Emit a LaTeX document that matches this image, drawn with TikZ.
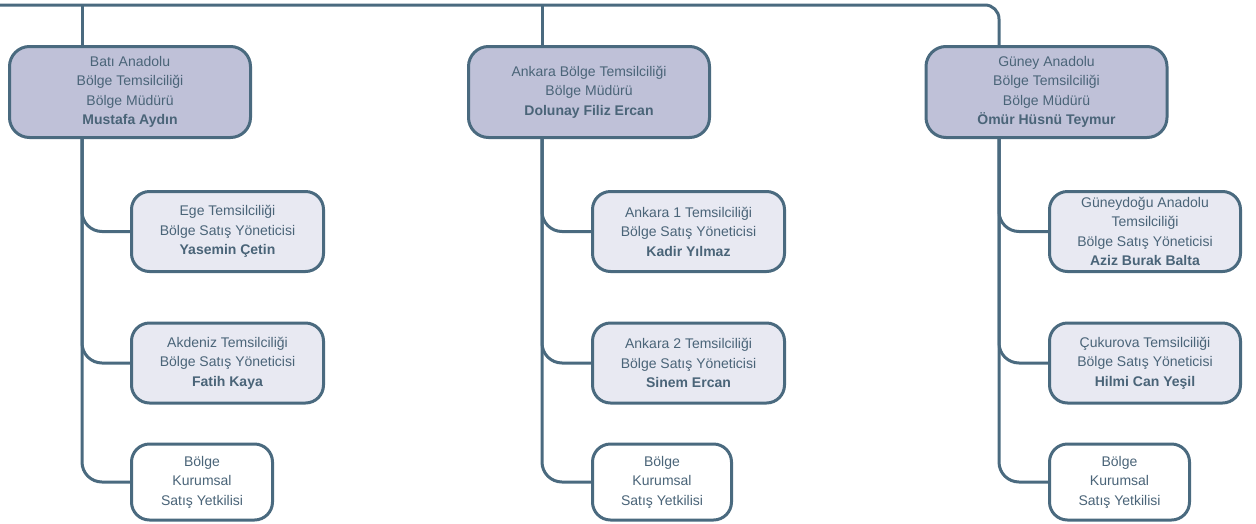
\documentclass[tikz,border=0pt]{standalone}
\usepackage{fontspec}
\setmainfont{Liberation Sans}
\definecolor{ln}{HTML}{4A6A7F}
\definecolor{tx}{HTML}{4A6478}
\definecolor{topfill}{HTML}{BFC1D8}
\definecolor{midfill}{HTML}{E8E9F2}
\tikzset{
  base/.style={draw=ln, line width=3pt, text=tx, align=center, inner sep=0pt,
    font=\fontsize{14}{19.5}\selectfont},
  topbox/.style={base, fill=topfill, rounded corners=20pt, minimum width=241pt, minimum height=91pt},
  midbox/.style={base, fill=midfill, rounded corners=18pt, minimum width=192pt, minimum height=80pt},
  lowbox/.style={base, fill=white, rounded corners=18pt, minimum height=76pt},
  conn/.style={draw=ln, line width=3pt, rounded corners=20pt},
}
\begin{document}
\begin{tikzpicture}[x=1pt,y=-1pt]
\useasboundingbox (0,0) rectangle (1256,523);
\coordinate (tl) at (0,5);
\coordinate (s1) at (82,5);
\coordinate (s2) at (542,5);
\coordinate (s3) at (999,5);

\node[topbox] (b1) at (130,92) {Batı Anadolu\\Bölge Temsilciliği\\Bölge Müdürü\\\textbf{Mustafa Aydın}};
\node[topbox] (b2) at (589,92) {Ankara Bölge Temsilciliği\\Bölge Müdürü\\\textbf{Dolunay Filiz Ercan}};
\node[topbox] (b3) at (1046.5,92) {Güney Anadolu\\Bölge Temsilciliği\\Bölge Müdürü\\\textbf{Ömür Hüsnü Teymur}};

\node[midbox] (c11) at (227.5,231.5) {Ege Temsilciliği\\Bölge Satış Yöneticisi\\\textbf{Yasemin Çetin}};
\node[midbox] (c12) at (227.5,363) {Akdeniz Temsilciliği\\Bölge Satış Yöneticisi\\\textbf{Fatih Kaya}};
\node[lowbox, minimum width=141pt] (c13) at (202,482) {Bölge\\Kurumsal\\Satış Yetkilisi};

\node[midbox] (c21) at (688.5,231.5) {Ankara 1 Temsilciliği\\Bölge Satış Yöneticisi\\\textbf{Kadir Yılmaz}};
\node[midbox] (c22) at (688.5,363) {Ankara 2 Temsilciliği\\Bölge Satış Yöneticisi\\\textbf{Sinem Ercan}};
\node[lowbox, minimum width=139pt] (c23) at (662,482) {Bölge\\Kurumsal\\Satış Yetkilisi};

\node[midbox, minimum width=191pt] (c31) at (1145,231.5) {Güneydoğu Anadolu\\Temsilciliği\\Bölge Satış Yöneticisi\\\textbf{Aziz Burak Balta}};
\node[midbox, minimum width=191pt] (c32) at (1145,363) {Çukurova Temsilciliği\\Bölge Satış Yöneticisi\\\textbf{Hilmi Can Yeşil}};
\node[lowbox, minimum width=140pt] (c33) at (1119.5,482) {Bölge\\Kurumsal\\Satış Yetkilisi};

% top bus
\draw[conn, rounded corners=14pt] (tl) -| (s3 |- b3.north);
\draw[conn] (s1) -- (s1 |- b1.north);
\draw[conn] (s2) -- (s2 |- b2.north);

% column spines
\foreach \s/\b/\c in {s1/b1/c11, s1/b1/c12, s1/b1/c13, s2/b2/c21, s2/b2/c22, s2/b2/c23, s3/b3/c31, s3/b3/c32, s3/b3/c33}{
  \draw[conn] (\s |- \b.south) |- (\c.west);
}
\end{tikzpicture}
\end{document}
